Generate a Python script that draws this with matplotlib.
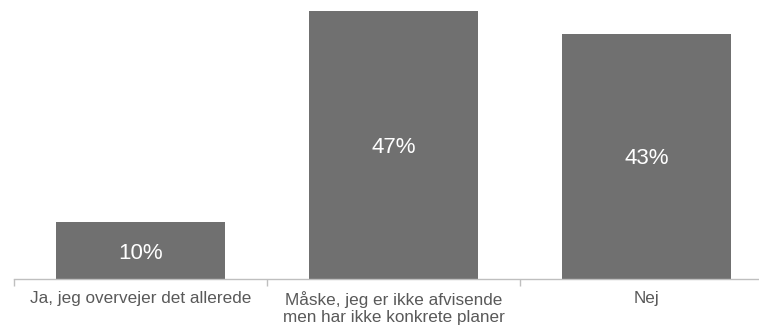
import matplotlib
matplotlib.use("Agg")
import matplotlib.pyplot as plt
import matplotlib.transforms as mtrans

categories = ["Ja, jeg overvejer det allerede",
              "Måske, jeg er ikke afvisende\nmen har ikke konkrete planer",
              "Nej"]
values = [10, 47, 43]
value_labels = ["10%", "47%", "43%"]

W, H = 759, 329
fig = plt.figure(figsize=(W / 100, H / 100), dpi=100)
left_px, right_px, base_px = 14, 773, 279
ax = fig.add_axes([left_px / W, (H - base_px) / H, (right_px - left_px) / W, base_px / H])

x = list(range(len(categories)))
ax.bar(x, values, width=0.667, color="#707070", zorder=2)
ax.set_xlim(-0.5, len(categories) - 0.5)
ax.set_ylim(0, 48.95)

for xi, v, lab in zip(x, values, value_labels):
    ax.text(xi, v / 2, lab, ha="center", va="center_baseline", color="white",
            fontsize=16, family="Liberation Sans")

for s in ["top", "right", "left"]:
    ax.spines[s].set_visible(False)
ax.spines["bottom"].set_color("#bfbfbf")
ax.spines["bottom"].set_linewidth(1.0)
ax.set_yticks([])

ax.set_xticks([i - 0.5 for i in range(len(categories) + 1)])
ax.set_xticklabels([])
ax.tick_params(axis="x", length=5, color="#bfbfbf", width=1.0)

offset = mtrans.ScaledTranslation(0, -12 / 100, fig.dpi_scale_trans)
for xi, c in zip(x, categories):
    ax.text(xi, 0, c, transform=ax.get_xaxis_transform() + offset, ha="center", va="top",
            color="#595959", fontsize=12.3, family="Liberation Sans", linespacing=1.2)

fig.savefig("out.png", dpi=100)
